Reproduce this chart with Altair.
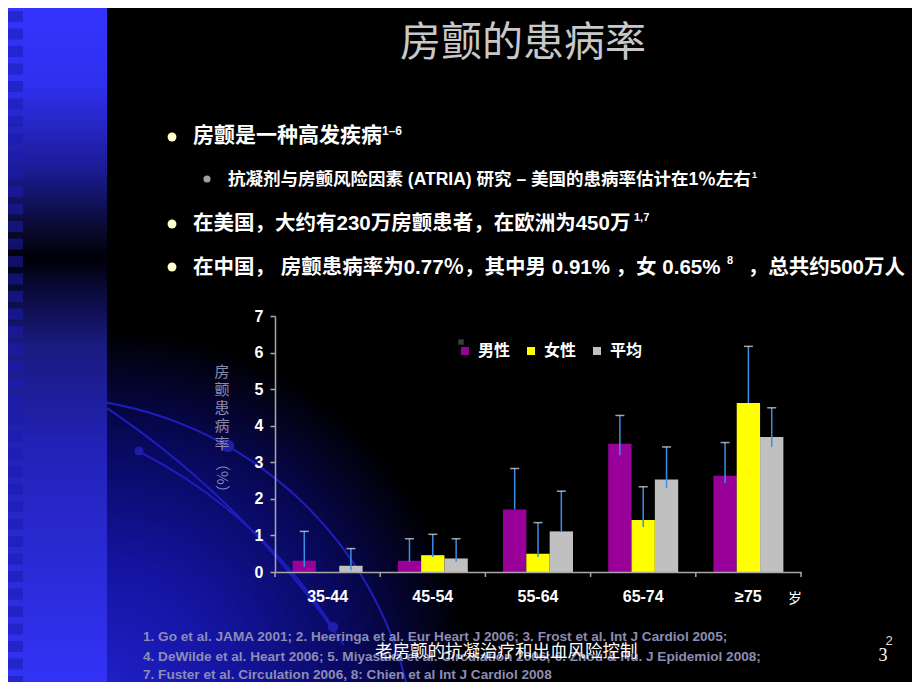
import altair as alt
import pandas as pd

# ---------------- data ----------------
ages = ["35-44", "45-54", "55-64", "65-74", "≥75"]
groups = ["男性", "女性", "平均"]
male = [0.31, 0.31, 1.71, 3.51, 2.63]
female = [None, 0.46, 0.50, 1.42, 4.62]
avg = [0.17, 0.37, 1.11, 2.53, 3.69]
male_hi = [1.11, 0.91, 2.83, 4.28, 3.54]
female_hi = [None, 1.03, 1.35, 2.33, 6.17]
avg_hi = [0.64, 0.91, 2.21, 3.42, 4.49]
male_lo = [0.14, 0.28, 1.71, 3.19, 2.43]
female_lo = [None, 0.41, 0.41, 1.23, 4.62]
avg_lo = [0.05, 0.28, 1.11, 2.30, 3.42]
colors = ["#990099", "#ffff00", "#c0c0c0"]
y_ticks = [0, 1, 2, 3, 4, 5, 6, 7]

title_text = "房颤的患病率"
bullet1 = "房颤是一种高发疾病"
bullet1_sup = "1–6"
bullet2 = "抗凝剂与房颤风险因素 (ATRIA) 研究 – 美国的患病率估计在1％左右"
bullet2_sup = "1"
bullet3 = "在美国，大约有230万房颤患者，在欧洲为450万"
bullet3_sup = "1,7"
bullet4a = "在中国， 房颤患病率为0.77％，其中男 0.91% ，女 0.65%"
bullet4_sup = "8"
bullet4b = "，总共约500万人"
refs = [
    "1. Go et al. JAMA 2001; 2. Heeringa et al. Eur Heart J 2006; 3. Frost et al. Int J Cardiol 2005;",
    "4. DeWilde et al. Heart 2006; 5. Miyasaka et al. Circulation 2006; 6. Zhou & Hu. J Epidemiol 2008;",
    "7. Fuster et al. Circulation 2006, 8: Chien et al Int J Cardiol 2008",
]
overlay_text = "老房颤的抗凝治疗和出血风险控制"
ytitle_chars = ["房", "颤", "患", "病", "率"]
ytitle_unit = "（%）"
x_unit = "岁"

rows = []
for i, a in enumerate(ages):
    for g, v, lo, hi in zip(groups, [male[i], female[i], avg[i]],
                            [male_lo[i], female_lo[i], avg_lo[i]],
                            [male_hi[i], female_hi[i], avg_hi[i]]):
        rows.append({"age": a, "group": g, "value": v, "lo": lo, "hi": hi})
df = pd.DataFrame(rows)
df_bars = df.dropna(subset=["value"])
df_err = df.dropna(subset=["hi"])
df_ages = pd.DataFrame({"age": ages})
one = pd.DataFrame({"k": [0]})

# ---------------- layout ----------------
W, H = 526, 256
OX, OY = 275, 316  # page position of plot origin
CJK = "Noto Sans CJK SC"
MIX = "Liberation Sans, Noto Sans CJK SC"


def P(X):
    return X - OX


def Q(Y):
    return Y - OY


def label(s, X, Y, size, color="white", weight="bold", font=MIX,
          align="left", baseline="middle", angle=0, style="normal"):
    kw = dict(text=s, fontSize=size, color=color, fontWeight=weight, font=font,
              align=align, baseline=baseline, fontStyle=style)
    if angle:
        kw["angle"] = angle
    return alt.Chart(one).mark_text(**kw).encode(x=alt.value(P(X)), y=alt.value(Q(Y)))


def box(X1, X2, Y1, Y2, fill, opacity=1.0):
    return alt.Chart(one).mark_rect(fill=fill, opacity=opacity).encode(
        x=alt.value(P(X1)), x2=alt.value(P(X2)), y=alt.value(Q(Y1)), y2=alt.value(Q(Y2)))


def arc(cx, cy, r, t1, t2, color="#1e1ec0", w=2.0):
    return alt.Chart(one).mark_arc(radius=r + w / 2, radius2=r - w / 2, theta=t1, theta2=t2,
                                   color=color).encode(x=alt.value(P(cx)), y=alt.value(Q(cy)))


def dot(X, Y, r, color="#2020b0", opacity=0.9):
    return alt.Chart(one).mark_circle(size=3.14159 * r * r, color=color, opacity=opacity).encode(
        x=alt.value(P(X)), y=alt.value(Q(Y)))


# background stripe gradient
stripe_grad = alt.LinearGradient(
    gradient="linear", x1=0, y1=0, x2=0, y2=1,
    stops=[
        alt.GradientStop(color="#3434ff", offset=0.0),
        alt.GradientStop(color="#3030f0", offset=0.12),
        alt.GradientStop(color="#1c1c9a", offset=0.24),
        alt.GradientStop(color="#0a0a30", offset=0.33),
        alt.GradientStop(color="#000006", offset=0.375),
        alt.GradientStop(color="#0a0a3a", offset=0.42),
        alt.GradientStop(color="#1a1a80", offset=0.5),
        alt.GradientStop(color="#2222b8", offset=0.65),
        alt.GradientStop(color="#2c2cdc", offset=0.85),
        alt.GradientStop(color="#3333f8", offset=1.0),
    ])
glow_grad = alt.RadialGradient(
    gradient="radial", x1=0, y1=1, r1=0, x2=0, y2=1, r2=1,
    stops=[
        alt.GradientStop(color="#2020c8", offset=0.0),
        alt.GradientStop(color="#1414a0", offset=0.35),
        alt.GradientStop(color="#08085a", offset=0.7),
        alt.GradientStop(color="#000000", offset=1.0),
    ])

glow = box(107, 470, 330, 690, glow_grad)
arcs = [
    arc(42, 772, 375, 0.09, 1.40),
    arc(-374, 1126, 864, 0.52, 0.98),
    arc(-85, 893, 495, 0.47, 1.01),
]
dots = [dot(139, 451, 5), dot(228, 446, 7), dot(333, 627, 6)]
stripe = box(0, 107, 0, 690, stripe_grad)
squares = alt.Chart(alt.sequence(0, 39, as_="i")).transform_calculate(
    y0=f"datum.i*17.5 + 11 - {OY}", y1=f"datum.i*17.5 + 22 - {OY}"
).mark_rect(color="#1c1cb0", opacity=0.55).encode(
    x=alt.value(P(7)), x2=alt.value(P(23)),
    y=alt.Y("y0:Q", scale=None, axis=None), y2="y1:Q")

# ---------------- chart ----------------
xscale = alt.Scale(domain=ages, paddingInner=0, paddingOuter=0)
xoff = alt.XOffset("group:N", scale=alt.Scale(domain=groups, paddingInner=0, paddingOuter=0.755))
yscale = alt.Scale(domain=[0, 7], nice=False)
xaxis = alt.Axis(ticks=False, labelFont="Liberation Sans", labelFontSize=16,
                 labelFontWeight="bold", labelColor="white", labelPadding=16,
                 labelAngle=0, domainColor="#a8a8a8", domainWidth=1.5, zindex=1)
yaxis = alt.Axis(values=y_ticks, tickCount=8, grid=False, labelFont="Liberation Sans",
                 labelFontSize=16, labelFontWeight="bold", labelColor="white",
                 labelOverlap=False, tickColor="#a8a8a8", tickSize=5, tickWidth=1.5,
                 labelPadding=7, domainColor="#a8a8a8", domainWidth=1.5, zindex=1)

bars = alt.Chart(df_bars).mark_bar().encode(
    x=alt.X("age:N", scale=xscale, sort=ages, title=None, axis=xaxis),
    xOffset=xoff,
    y=alt.Y("value:Q", scale=yscale, title=None, axis=yaxis),
    color=alt.Color("group:N", scale=alt.Scale(domain=groups, range=colors),
                    legend=alt.Legend(orient="none", legendX=182, legendY=27,
                                      direction="horizontal", title=None,
                                      symbolType="square", symbolSize=64,
                                      symbolStrokeWidth=0, labelColor="white",
                                      labelFont=CJK, labelFontSize=16,
                                      labelFontWeight="bold", labelOffset=5,
                                      columnPadding=12, padding=0)),
)

err = alt.Chart(df_err).mark_rule(color="#3a8ee6", strokeWidth=1.5).encode(
    x=alt.X("age:N", scale=xscale, sort=ages, title=None, axis=xaxis),
    xOffset=xoff,
    y=alt.Y("lo:Q", scale=yscale, title=None, axis=yaxis),
    y2="hi:Q",
)
caps = alt.Chart(df_err).mark_tick(orient="horizontal", size=9, thickness=1.5,
                                   color="#e8e8e8").encode(
    x=alt.X("age:N", scale=xscale, sort=ages, title=None, axis=xaxis),
    xOffset=xoff,
    y=alt.Y("hi:Q", scale=yscale, title=None, axis=yaxis),
)
xticks = alt.Chart(df_ages).mark_rule(color="#a8a8a8", strokeWidth=1.5).encode(
    x=alt.X("age:N", scale=xscale, sort=ages, bandPosition=0, title=None, axis=xaxis),
    y=alt.value(H), y2=alt.value(H + 5),
)
xtick_end = alt.Chart(one).mark_rule(color="#a8a8a8", strokeWidth=1.5).encode(
    x=alt.value(W), y=alt.value(H), y2=alt.value(H + 5))

legend_dark = alt.Chart(one).mark_square(size=30, color="#3a3a3a", opacity=1).encode(
    x=alt.value(P(461)), y=alt.value(Q(342)))

REF = "#8c8cb4"
texts = [
    label(title_text, 523, 44, 41, color="#c8c8c8", weight="normal", font=CJK, align="center"),
    dot(172, 137, 5, color="#ffffcc", opacity=1),
    label(bullet1, 193, 136, 21),
    label(bullet1_sup, 382, 131, 12),
    dot(207, 179, 4, color="#a0a0a0", opacity=1),
    label(bullet2, 228, 180, 17.5),
    label(bullet2_sup, 752, 175, 9),
    dot(172, 224, 5, color="#ffffcc", opacity=1),
    label(bullet3, 193, 224, 20.5),
    label(bullet3_sup, 634, 218, 11),
    dot(172, 267, 5, color="#ffffcc", opacity=1),
    label(bullet4a, 193, 268, 20.5),
    label(bullet4_sup, 727, 261, 11),
    label(bullet4b, 905, 268, 20.5, align="right"),
    alt.Chart(one).mark_text(text=ytitle_chars, fontSize=15, lineHeight=18, color="#8a8aae",
                             font=CJK, align="center", baseline="top").encode(
        x=alt.value(P(222)), y=alt.value(Q(365))),
    label(ytitle_unit, 222, 478, 15, color="#8a8aae", weight="normal", font=CJK,
          align="center", angle=90),
    label(x_unit, 795, 599, 14, weight="normal", font=CJK, align="center"),
    label(refs[0], 143, 637, 13.6, color=REF),
    label(refs[1], 143, 657, 13.6, color=REF),
    label(refs[2], 143, 675, 13.6, color=REF),
    label(overlay_text, 375, 652, 17.5, weight="normal", font=CJK),
    label("3", 883, 656, 18, weight="normal", font="Liberation Serif", align="center"),
    label("2", 889, 641, 13, color="#dddddd", weight="normal", font="Liberation Sans",
          align="center"),
]

chart = alt.layer(
    glow, *arcs, *dots, stripe, squares,
    bars, err, caps, xticks, xtick_end, legend_dark, *texts
).properties(
    width=W, height=H, background="black",
    padding={"left": OX - 8, "top": OY - 8, "right": 904 - (OX - 8) - W,
             "bottom": 674 - (OY - 8) - H},
    autosize=alt.AutoSizeParams(type="none"),
).configure_view(stroke=None)

chart.save("out.html", embed_options={"renderer": "svg", "actions": False})
